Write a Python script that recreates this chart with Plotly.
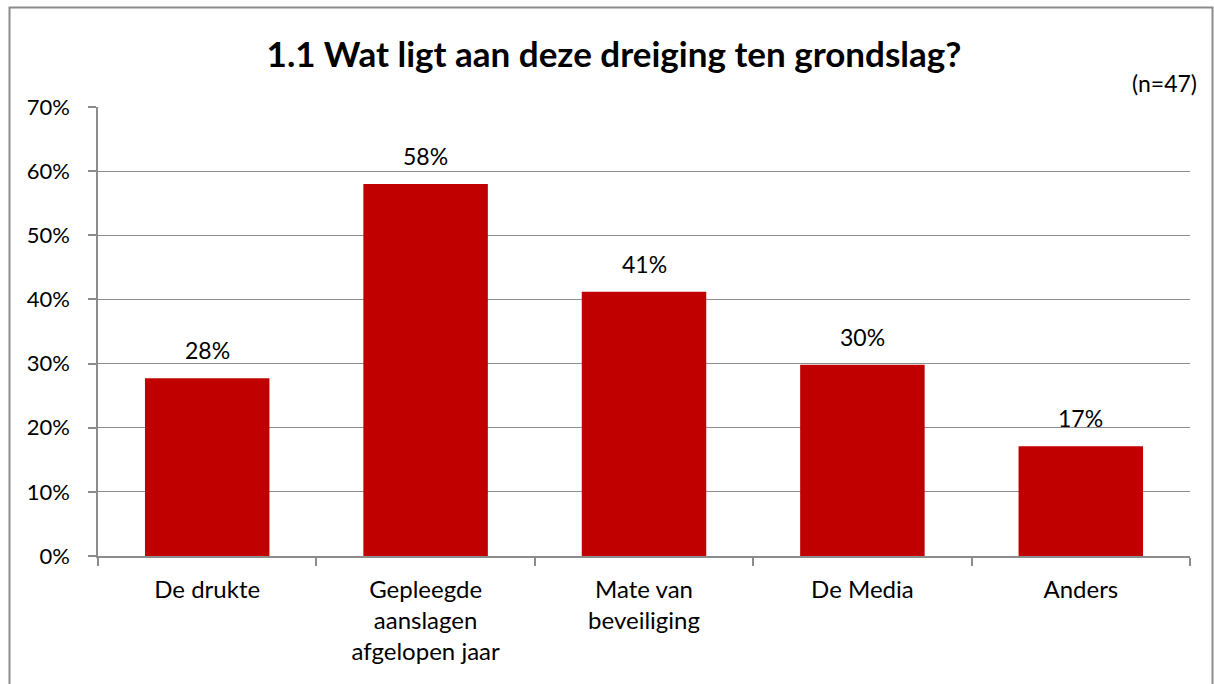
import plotly.graph_objects as go

categories = ["De drukte", "Gepleegde<br>aanslagen<br>afgelopen jaar", "Mate van<br>beveiliging", "De Media", "Anders"]
values = [0.277, 0.580, 0.412, 0.298, 0.171]
y_ticks = [0, 0.1, 0.2, 0.3, 0.4, 0.5, 0.6, 0.7]
title_text = "1.1 Wat ligt aan deze dreiging ten grondslag?"
note_text = "(n=47)"

W, H = 1214, 684
L, R, T, B = 98, 24, 107, 128
pw, ph = W - L - R, H - T - B

FONT = "Lato, Open Sans, sans-serif"
GRID = "#8c8c8c"

fig = go.Figure(go.Bar(
    x=categories, y=values,
    marker=dict(color="#C00000", line=dict(width=0)),
    width=0.57,
    hoverinfo="x+y",
))

def px_x(p):
    return (p - L) / pw

def px_y(p):
    return (H - B - p) / ph

annotations = [dict(
    text=note_text, xref="paper", yref="paper",
    x=px_x(1199), y=px_y(83), xanchor="right", yanchor="middle",
    showarrow=False, font=dict(size=23, family=FONT, color="#000000"),
)]
for c, v in zip(categories, values):
    annotations.append(dict(
        x=c, y=v, xref="x", yref="y", text=f"{round(v * 100)}%",
        showarrow=False, yanchor="bottom", yshift=12,
        font=dict(size=23, family=FONT, color="#000000"),
    ))

fig.update_layout(
    width=W, height=H,
    margin=dict(l=L, r=R, t=T, b=B),
    paper_bgcolor="white", plot_bgcolor="white",
    showlegend=False,
    font=dict(family=FONT, size=22, color="#000000"),
    title=dict(text="<b>" + title_text + "</b>", x=614 / W, xref="container", xanchor="center",
               y=1 - 55 / H, yref="container", yanchor="middle",
               font=dict(size=35, family=FONT, color="#000000")),
    xaxis=dict(
        showgrid=False, showline=True, linecolor=GRID, linewidth=1.5,
        ticks="outside", ticklen=8, tickcolor=GRID, tickwidth=1.5,
        tickson="boundaries", tickfont=dict(size=24, family=FONT),
        ticklabelstandoff=11,
        range=[-0.5, 4.5],
    ),
    yaxis=dict(
        range=[0, 0.7], tickvals=y_ticks, tickformat=".0%",
        showgrid=True, gridcolor=GRID, gridwidth=1.2,
        showline=True, linecolor=GRID, linewidth=1.5,
        ticks="outside", ticklen=8, tickcolor=GRID, tickwidth=1.5,
        tickfont=dict(size=22, family=FONT), zeroline=False,
        ticklabelstandoff=14,
    ),
    bargap=0.43,
    annotations=annotations,
    shapes=[dict(
        type="rect", xref="paper", yref="paper",
        x0=px_x(9.5), x1=px_x(1212.5), y0=px_y(690), y1=px_y(7.5),
        line=dict(color="#8c8c8c", width=2), fillcolor="rgba(0,0,0,0)", layer="below",
    )],
)

fig.write_html("out.html", config={"displayModeBar": False},
               post_script="document.body.style.margin='0';document.body.style.overflow='hidden';")
